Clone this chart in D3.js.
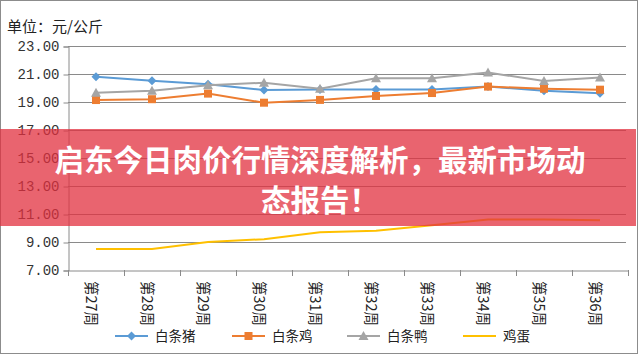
<!DOCTYPE html>
<html><head><meta charset="utf-8">
<script src="https://cdn.jsdelivr.net/npm/d3@7"></script>
<style>html,body{margin:0;padding:0;background:#fff;}svg{display:block;}</style>
</head><body><div id="chart"></div>
<script>
const categories = ["第27周","第28周","第29周","第30周","第31周","第32周","第33周","第34周","第35周","第36周"];
const pork = [20.8, 20.52, 20.26, 19.86, 19.9, 19.9, 19.9, 20.1, 19.8, 19.62];
const chicken = [19.14, 19.2, 19.6, 18.95, 19.15, 19.43, 19.64, 20.1, 19.95, 19.88];
const duck = [19.66, 19.8, 20.2, 20.38, 19.95, 20.7, 20.7, 21.1, 20.5, 20.75];
const egg = [8.5, 8.5, 9.0, 9.2, 9.7, 9.8, 10.2, 10.6, 10.6, 10.55];
const seriesNames = ["白条猪","白条鸡","白条鸭","鸡蛋"];
const yTicks = [7,9,11,13,15,17,19,21,23];
const unitLabel = "单位：元/公斤";
const titleLines = ["启东今日肉价行情深度解析，最新市场动","态报告！"];

const W = 640, H = 356;
const svg = d3.select("#chart").append("svg").attr("width", W).attr("height", H);
svg.append("rect").attr("x",0.5).attr("y",0.5).attr("width",637).attr("height",353)
  .attr("fill","#fff").attr("stroke","#8c8c8c").attr("stroke-width",1);

const x = d3.scaleBand().domain(categories).range([68, 628]);
const y = d3.scaleLinear().domain([7, 23]).range([270, 46]);
const font = "'Liberation Mono','DejaVu Sans Mono',monospace";
const cjk = "'Noto Sans CJK SC','Noto Sans',sans-serif";

// gridlines
svg.append("g").selectAll("line").data(yTicks.filter(d=>d>7)).join("line")
  .attr("x1",68).attr("x2",626).attr("y1",d=>y(d)+0.5).attr("y2",d=>y(d)+0.5)
  .attr("stroke","#8a8a8a").attr("stroke-width",1);

// y axis
const yAxis = svg.append("g").attr("transform","translate(68.5,0.5)")
  .call(d3.axisLeft(y).tickValues(yTicks).tickFormat(d3.format(".2f")).tickSize(5).tickPadding(4));
yAxis.select(".domain").attr("stroke","#8a8a8a");
yAxis.selectAll(".tick line").attr("stroke","#8a8a8a");
yAxis.selectAll("text").attr("font-family",font).attr("font-size",14).attr("fill","#333");

// x axis
const xAxis = svg.append("g").attr("transform","translate(0.5,270.5)")
  .call(d3.axisBottom(x).tickSize(0).tickFormat(""));
xAxis.select(".domain").attr("stroke","#8a8a8a");
svg.append("g").selectAll("line").data(d3.range(categories.length+1)).join("line")
  .attr("x1",i=>Math.round(68+i*x.step())+0.5).attr("x2",i=>Math.round(68+i*x.step())+0.5)
  .attr("y1",270).attr("y2",276).attr("stroke","#8a8a8a");
svg.append("g").selectAll("text").data(categories).join("text")
  .attr("transform",d=>`translate(${x(d)+x.bandwidth()/2-5},281) rotate(90)`)
  .attr("font-family",cjk).attr("font-size",14.5).attr("fill","#222")
  .attr("dominant-baseline","middle").attr("dy","0.1em")
  .text(d=>d);

// unit label
svg.append("text").attr("x",7).attr("y",32).attr("font-family",cjk).attr("font-size",15)
  .attr("fill","#222").text(unitLabel);

const colors = ["#5B9BD5","#ED7D31","#A5A5A5","#FFC000"];
const data = [pork, chicken, duck, egg];
const line = d3.line().x((d,i)=>x(categories[i])+x.bandwidth()/2).y(d=>y(d));
const markers = ["diamond","square","triangle",null];

function drawMarker(g, type, cx, cy, color){
  if(type==="diamond"){
    g.append("path").attr("d",`M${cx},${cy-4.5}L${cx+4.5},${cy}L${cx},${cy+4.5}L${cx-4.5},${cy}Z`).attr("fill",color);
  } else if(type==="square"){
    g.append("rect").attr("x",cx-4).attr("y",cy-4).attr("width",8).attr("height",8).attr("fill",color);
  } else if(type==="triangle"){
    g.append("path").attr("d",`M${cx},${cy-5}L${cx+5},${cy+4}L${cx-5},${cy+4}Z`).attr("fill",color);
  }
}

data.forEach((vals, si)=>{
  const g = svg.append("g");
  g.append("path").attr("d",line(vals)).attr("fill","none").attr("stroke",colors[si]).attr("stroke-width",2);
  if(markers[si]) vals.forEach((v,i)=>drawMarker(g, markers[si], x(categories[i])+x.bandwidth()/2, y(v), colors[si]));
});

// legend
const legX = [115, 232, 347, 463];
seriesNames.forEach((n,i)=>{
  const g = svg.append("g");
  g.append("line").attr("x1",legX[i]).attr("x2",legX[i]+33).attr("y1",336).attr("y2",336)
    .attr("stroke",colors[i]).attr("stroke-width",2);
  if(markers[i]) drawMarker(g, markers[i], legX[i]+16.5, 336, colors[i]);
  g.append("text").attr("x",legX[i]+40).attr("y",341).attr("font-family",cjk).attr("font-size",13.5)
    .attr("fill","#222").text(n);
});

// banner overlay
svg.append("rect").attr("x",0).attr("y",129).attr("width",636).attr("height",97)
  .attr("fill","#e2303f").attr("opacity",0.75);
svg.append("g").selectAll("text").data(titleLines).join("text")
  .attr("x",320).attr("y",(d,i)=>171+i*40).attr("text-anchor","middle")
  .attr("font-family",cjk).attr("font-weight",700).attr("font-size",29.5).attr("fill","#fff")
  .text(d=>d);
</script></body></html>
